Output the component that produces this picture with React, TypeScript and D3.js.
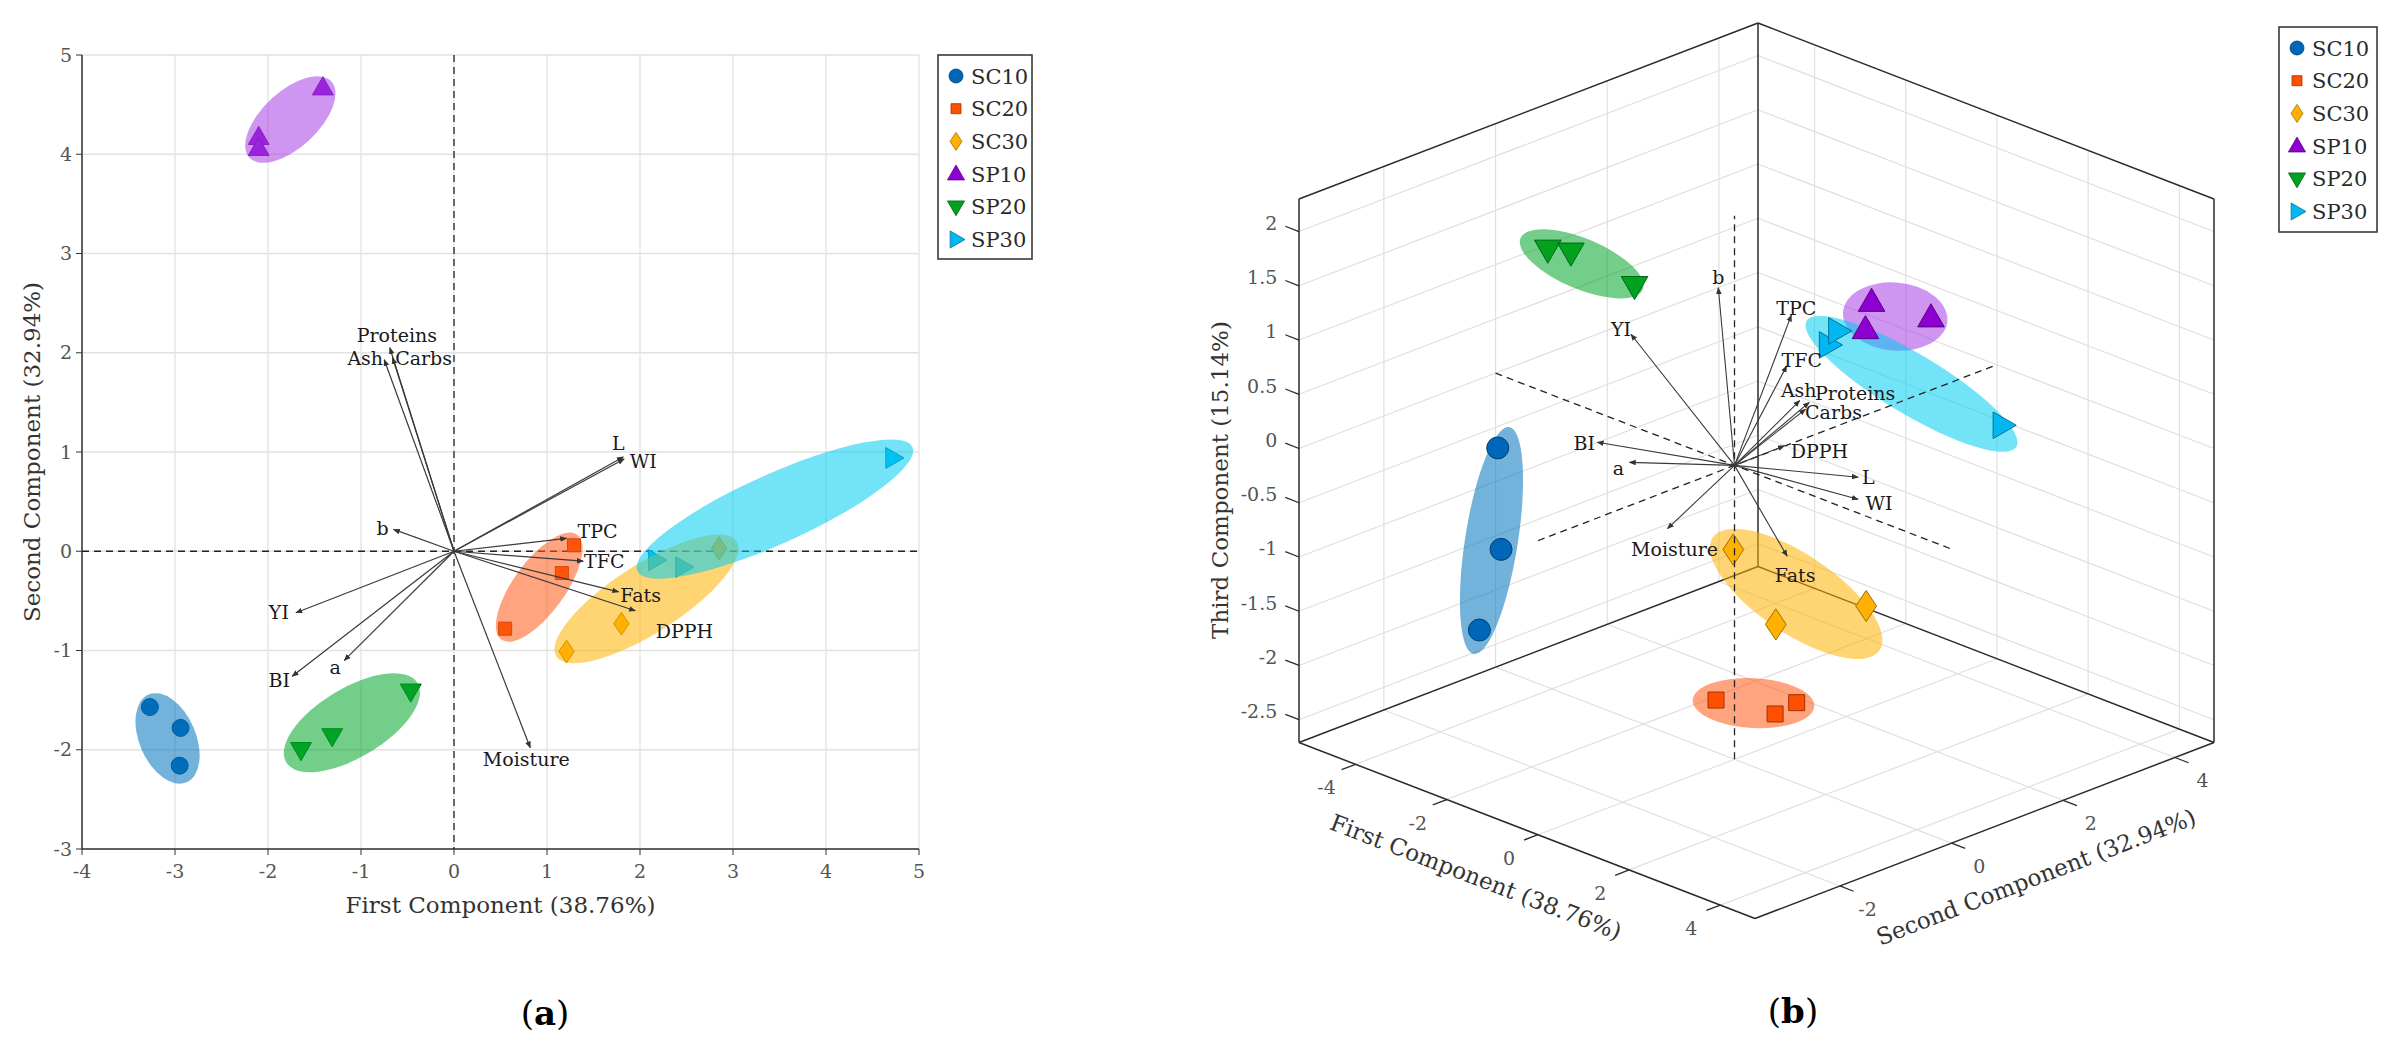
import React, { useEffect, useRef } from "react";
import * as d3 from "d3";

const WIDTH = 2393;
const HEIGHT = 1049;
const FONT = "'DejaVu Serif', serif";

// groups
const GROUPS = ["SC10", "SC20", "SC30", "SP10", "SP20", "SP30"];
const SHAPES = ["circle", "square", "diamond", "triUp", "triDown", "triRight"];
const MARKER_COLORS = ["#0066B8", "#FF4F00", "#FFB000", "#8E00D2", "#00A21E", "#00B7F1"];
const ELLIPSE_COLORS = ["#0072BD", "#FF5A14", "#FFB000", "#A540E6", "#00A52A", "#00CCF2"];

// scores (3 replicates per group)
const PC1 = [
  [-3.27, -2.94, -2.95],
  [0.55, 1.16, 1.29],
  [1.21, 1.8, 2.85],
  [-1.41, -2.1, -2.1],
  [-1.645, -1.31, -0.465],
  [2.17, 2.46, 4.72],
];
const PC2 = [
  [-1.57, -1.78, -2.16],
  [-0.78, -0.22, 0.06],
  [-1.01, -0.73, 0.03],
  [4.67, 4.17, 4.06],
  [-2.0, -1.86, -1.41],
  [-0.09, -0.16, 0.94],
];
const PC3 = [
  [-0.06, -0.9, -1.57],
  [-1.92, -2.06, -1.99],
  [-0.38, -1.03, -0.84],
  [0.21, 0.34, 0.11],
  [2.12, 2.12, 1.86],
  [1.48, 1.67, 0.95],
];

// group ellipses, panel (a): centre, semi-major vector (data units), minor/major ratio
const ELL2_CENTER = [
  [-3.08, -1.886],
  [0.916, -0.362],
  [2.07, -0.48],
  [-1.76, 4.35],
  [-1.098, -1.728],
  [3.45, 0.425],
];
const ELL2_AXIS = [
  [0.204, -0.442],
  [0.408, 0.528],
  [0.97, 0.58],
  [0.44, 0.385],
  [0.707, 0.399],
  [1.48, 0.625],
];
const ELL2_RATIO = [0.59, 0.4, 0.32, 0.5, 0.45, 0.23];

// group ellipses, panel (b)
const ELL3_CENTER = [
  [-3.08, -1.837, -0.83],
  [0.8, -0.313, -2.0],
  [2.05, -0.57, -0.74],
  [-1.68, 4.25, 0.26],
  [-1.2, -1.757, 2.01],
  [3.6, 0.23, 1.29],
];
const ELL3_AXIS = [
  [0.39, 0, 1.109],
  [1.333, 0, 0.187],
  [1.83, 0, -0.223],
  [1.144, 0, 0.143],
  [1.34, 0, -0.02],
  [2.3, 0, -0.207],
];
const ELL3_RATIO = [0.23, 0.41, 0.39, 0.65, 0.38, 0.245];

// loadings
const VARS = ["Proteins", "Ash", "Carbs", "L", "WI", "b", "TPC", "TFC", "Fats", "DPPH", "YI", "BI", "a", "Moisture"];
const LOAD1 = [-0.69, -0.75, -0.66, 1.82, 1.83, -0.65, 1.21, 1.39, 1.77, 1.95, -1.7, -1.74, -1.18, 0.82];
const LOAD2 = [2.05, 1.93, 1.95, 0.95, 0.93, 0.22, 0.13, -0.1, -0.41, -0.6, -0.62, -1.26, -1.1, -1.98];
const LOAD3D_1 = [-0.64, -0.7, -0.61, 1.66, 1.67, -0.6, 1.1, 1.26, 1.62, 1.78, -1.56, -1.6, -1.08, 0.76];
const LOAD3D_2 = [1.86, 1.74, 1.77, 0.86, 0.85, 0.2, 0.12, -0.093, -0.38, -0.56, -0.58, -1.15, -1.0, -1.82];
const LOAD3D_3 = [0.11, 0.14, 0.07, -0.01, -0.21, 1.5, 1.54, 1.14, -0.5, 0.58, 1.07, 0.18, 0.05, -0.1];

// axes
const X_TICKS_A = [-4, -3, -2, -1, 0, 1, 2, 3, 4, 5];
const Y_TICKS_A = [-3, -2, -1, 0, 1, 2, 3, 4, 5];
const X_TICKS_B = [-4, -2, 0, 2, 4];
const Y_TICKS_B = [-2, 0, 2, 4];
const Z_TICKS_B = [-2.5, -2, -1.5, -1, -0.5, 0, 0.5, 1, 1.5, 2];
const X_DOMAIN_B = [-5.24, 4.76];
const Y_DOMAIN_B = [-3.52, 4.7];
const Z_DOMAIN_B = [-2.71, 2.3];

// label placement (px offsets of label centre from arrow tip)
const LABEL_OFF_A: Record<string, [number, number]> = {
  Proteins: [7, -12], Ash: [-19, -1], Carbs: [31, 1], L: [-5, -14], WI: [19, 2], b: [-11, -1],
  TPC: [31, -7], TFC: [21, 0], Fats: [22, 3], DPPH: [49, 21], YI: [-17, 0], BI: [-13, 4],
  a: [-9, 7], Moisture: [-4, 12],
};
const LABEL_OFF_B: Record<string, [number, number]> = {
  Proteins: [46, -9], Ash: [-1, -10], Carbs: [28, 3], L: [10, 0], WI: [21, 4], b: [0, -10],
  TPC: [5, -7], TFC: [15, -6], Fats: [8, 19], DPPH: [35, 6], YI: [-10, -5], BI: [-13, 1],
  a: [-11, 6], Moisture: [7, 21],
};

function shapePath(shape: string, s: number): string {
  switch (shape) {
    case "circle":
      return `M${s},0A${s},${s} 0 1,1 ${-s},0A${s},${s} 0 1,1 ${s},0Z`;
    case "square":
      return `M${-s},${-s}H${s}V${s}H${-s}Z`;
    case "diamond":
      return `M0,${-1.2 * s}L${0.8 * s},0L0,${1.2 * s}L${-0.8 * s},0Z`;
    case "triUp":
      return `M0,${-s}L${0.95 * s},${0.65 * s}L${-0.95 * s},${0.65 * s}Z`;
    case "triDown":
      return `M0,${s}L${0.95 * s},${-0.65 * s}L${-0.95 * s},${-0.65 * s}Z`;
    default:
      return `M${s},0L${-0.65 * s},${-0.95 * s}L${-0.65 * s},${0.95 * s}Z`;
  }
}

const MARKER_SIZE_A: Record<string, number> = { circle: 8.5, square: 6.5, diamond: 9.5, triUp: 11, triDown: 11, triRight: 11 };
const MARKER_SIZE_B: Record<string, number> = { circle: 11, square: 8, diamond: 13, triUp: 14, triDown: 14, triRight: 14 };
const MARKER_SIZE_LEG: Record<string, number> = { circle: 7, square: 5, diamond: 7.5, triUp: 9, triDown: 9, triRight: 9 };

type Sel = d3.Selection<SVGSVGElement, unknown, null, undefined>;

function drawLegend(svg: Sel, x: number, y: number, w: number, h: number) {
  const g = svg.append("g");
  g.append("rect").attr("x", x).attr("y", y).attr("width", w).attr("height", h)
    .attr("fill", "white").attr("stroke", "#3a3a3a").attr("stroke-width", 1.6);
  GROUPS.forEach((name, i) => {
    const cy = y + 21 + i * 32.7;
    g.append("path").attr("d", shapePath(SHAPES[i], MARKER_SIZE_LEG[SHAPES[i]]))
      .attr("transform", `translate(${x + 18},${cy})`)
      .attr("fill", MARKER_COLORS[i])
      .attr("stroke", d3.color(MARKER_COLORS[i])!.darker(1.3).formatHex())
      .attr("stroke-width", 0.8);
    g.append("text").attr("x", x + 33).attr("y", cy).attr("dy", "0.36em")
      .attr("font-size", 21).attr("fill", "#2a2a2a").text(name);
  });
}

function drawBiplot(svg: Sel) {
  const P = { left: 82, right: 919, top: 55, bottom: 849 };
  const x = d3.scaleLinear().domain([-4, 5]).range([P.left, P.right]);
  const y = d3.scaleLinear().domain([-3, 5]).range([P.bottom, P.top]);
  const g = svg.append("g");

  // grid
  g.selectAll(".gx").data(X_TICKS_A).enter().append("line")
    .attr("x1", (d) => x(d)).attr("x2", (d) => x(d)).attr("y1", P.top).attr("y2", P.bottom)
    .attr("stroke", "#e2e2e2").attr("stroke-width", 1.3);
  g.selectAll(".gy").data(Y_TICKS_A).enter().append("line")
    .attr("y1", (d) => y(d)).attr("y2", (d) => y(d)).attr("x1", P.left).attr("x2", P.right)
    .attr("stroke", "#e2e2e2").attr("stroke-width", 1.3);

  // axes
  g.append("line").attr("x1", P.left).attr("x2", P.left).attr("y1", P.top).attr("y2", P.bottom).attr("stroke", "#333").attr("stroke-width", 1.5);
  g.append("line").attr("x1", P.left).attr("x2", P.right).attr("y1", P.bottom).attr("y2", P.bottom).attr("stroke", "#333").attr("stroke-width", 1.5);
  X_TICKS_A.forEach((t) => {
    g.append("line").attr("x1", x(t)).attr("x2", x(t)).attr("y1", P.bottom).attr("y2", P.bottom + 6).attr("stroke", "#333");
    g.append("text").attr("x", x(t)).attr("y", P.bottom + 22).attr("dy", "0.35em")
      .attr("text-anchor", "middle").attr("font-size", 19).attr("fill", "#555").text(String(t));
  });
  Y_TICKS_A.forEach((t) => {
    g.append("line").attr("x1", P.left - 6).attr("x2", P.left).attr("y1", y(t)).attr("y2", y(t)).attr("stroke", "#333");
    g.append("text").attr("x", P.left - 10).attr("y", y(t)).attr("dy", "0.35em")
      .attr("text-anchor", "end").attr("font-size", 19).attr("fill", "#555").text(String(t));
  });

  // zero lines
  g.append("line").attr("x1", x(0)).attr("x2", x(0)).attr("y1", P.top).attr("y2", P.bottom)
    .attr("stroke", "#222").attr("stroke-width", 1.3).attr("stroke-dasharray", "7 5");
  g.append("line").attr("x1", P.left).attr("x2", P.right).attr("y1", y(0)).attr("y2", y(0))
    .attr("stroke", "#222").attr("stroke-width", 1.3).attr("stroke-dasharray", "7 5");

  // markers
  GROUPS.forEach((_, i) => {
    PC1[i].forEach((v, j) => {
      g.append("path").attr("d", shapePath(SHAPES[i], MARKER_SIZE_A[SHAPES[i]]))
        .attr("transform", `translate(${x(v)},${y(PC2[i][j])})`)
        .attr("fill", MARKER_COLORS[i])
        .attr("stroke", d3.color(MARKER_COLORS[i])!.darker(1.3).formatHex())
        .attr("stroke-width", 1);
    });
  });

  // ellipses
  GROUPS.forEach((_, i) => {
    const [cx, cy] = ELL2_CENTER[i];
    const [ax, ay] = ELL2_AXIS[i];
    const sx = x(cx), sy = y(cy);
    const vx = x(cx + ax) - sx, vy = y(cy + ay) - sy;
    const rx = Math.hypot(vx, vy);
    const ang = (Math.atan2(vy, vx) * 180) / Math.PI;
    g.append("ellipse").attr("cx", sx).attr("cy", sy).attr("rx", rx).attr("ry", rx * ELL2_RATIO[i])
      .attr("transform", `rotate(${ang},${sx},${sy})`)
      .attr("fill", ELLIPSE_COLORS[i]).attr("fill-opacity", 0.55);
  });

  // loadings
  VARS.forEach((name, k) => {
    const ex = x(LOAD1[k]), ey = y(LOAD2[k]);
    g.append("line").attr("x1", x(0)).attr("y1", y(0)).attr("x2", ex).attr("y2", ey)
      .attr("stroke", "#3a3a3a").attr("stroke-width", 1.2).attr("marker-end", "url(#arrow)");
    const off = LABEL_OFF_A[name];
    g.append("text").attr("x", ex + off[0]).attr("y", ey + off[1]).attr("dy", "0.35em")
      .attr("text-anchor", "middle").attr("font-size", 19).attr("fill", "#1a1a1a").text(name);
  });

  // titles
  g.append("text").attr("x", (P.left + P.right) / 2).attr("y", 905).attr("dy", "0.35em")
    .attr("text-anchor", "middle").attr("font-size", 23).attr("fill", "#333").text("First Component (38.76%)");
  g.append("text").attr("transform", `translate(32,${(P.top + P.bottom) / 2}) rotate(-90)`).attr("dy", "0.35em")
    .attr("text-anchor", "middle").attr("font-size", 23).attr("fill", "#333").text("Second Component (32.94%)");
  const lab = g.append("text").attr("x", 545).attr("y", 1013).attr("dy", "0.35em")
    .attr("text-anchor", "middle").attr("font-size", 34).attr("fill", "#000");
  lab.append("tspan").text("(");
  lab.append("tspan").attr("font-weight", "bold").text("a");
  lab.append("tspan").text(")");

  drawLegend(svg, 938, 55, 94, 204);
}

function draw3D(svg: Sel) {
  const B = { x0: 1299, y0: 742.5, ux: 456, uy: 176, vx: 459, vy: -176, wz: 543.5 };
  const u = d3.scaleLinear().domain(X_DOMAIN_B).range([0, 1]);
  const v = d3.scaleLinear().domain(Y_DOMAIN_B).range([0, 1]);
  const w = d3.scaleLinear().domain(Z_DOMAIN_B).range([0, 1]);
  const proj = (X: number, Y: number, Z: number): [number, number] => {
    const uu = u(X), vv = v(Y), ww = w(Z);
    return [B.x0 + uu * B.ux + vv * B.vx, B.y0 + uu * B.uy + vv * B.vy - ww * B.wz];
  };
  const [x0, x1] = X_DOMAIN_B, [y0, y1] = Y_DOMAIN_B, [z0, z1] = Z_DOMAIN_B;
  const g = svg.append("g");
  const seg = (a: [number, number, number], b: [number, number, number], stroke: string, sw: number, dash?: string) => {
    const p = proj(...a), q = proj(...b);
    const l = g.append("line").attr("x1", p[0]).attr("y1", p[1]).attr("x2", q[0]).attr("y2", q[1])
      .attr("stroke", stroke).attr("stroke-width", sw);
    if (dash) l.attr("stroke-dasharray", dash);
    return l;
  };

  // grid
  const GC = "#e0e0e0";
  X_TICKS_B.forEach((t) => {
    seg([t, y0, z0], [t, y1, z0], GC, 1.2);
    seg([t, y1, z0], [t, y1, z1], GC, 1.2);
  });
  Y_TICKS_B.forEach((t) => {
    seg([x0, t, z0], [x1, t, z0], GC, 1.2);
    seg([x0, t, z0], [x0, t, z1], GC, 1.2);
  });
  Z_TICKS_B.forEach((t) => {
    seg([x0, y0, t], [x0, y1, t], GC, 1.2);
    seg([x0, y1, t], [x1, y1, t], GC, 1.2);
  });

  // box
  const BC = "#2a2a2a";
  seg([x0, y0, z0], [x1, y0, z0], BC, 1.5);
  seg([x1, y0, z0], [x1, y1, z0], BC, 1.5);
  seg([x0, y0, z0], [x0, y1, z0], BC, 1.5);
  seg([x0, y1, z0], [x1, y1, z0], BC, 1.5);
  seg([x0, y0, z0], [x0, y0, z1], BC, 1.5);
  seg([x0, y1, z0], [x0, y1, z1], BC, 1.5);
  seg([x1, y1, z0], [x1, y1, z1], BC, 1.5);
  seg([x0, y0, z1], [x0, y1, z1], BC, 1.5);
  seg([x0, y1, z1], [x1, y1, z1], BC, 1.5);

  // ticks + labels
  Z_TICKS_B.forEach((t) => {
    seg([x0, y0, t], [x0 - 0.3, y0, t], BC, 1.3);
    const p = proj(x0 - 0.3, y0, t);
    g.append("text").attr("x", p[0] - 8).attr("y", p[1] - 3).attr("dy", "0.35em")
      .attr("text-anchor", "end").attr("font-size", 19).attr("fill", "#555").text(String(t));
  });
  X_TICKS_B.forEach((t) => {
    seg([t, y0, z0], [t, y0 - 0.25, z0], BC, 1.3);
    const p = proj(t, y0 - 0.25, z0);
    g.append("text").attr("x", p[0] - 15).attr("y", p[1] + 18).attr("dy", "0.35em")
      .attr("text-anchor", "middle").attr("font-size", 19).attr("fill", "#555").text(String(t));
  });
  Y_TICKS_B.forEach((t) => {
    seg([x1, t, z0], [x1 + 0.3, t, z0], BC, 1.3);
    const p = proj(x1 + 0.3, t, z0);
    g.append("text").attr("x", p[0] + 14).attr("y", p[1] + 18).attr("dy", "0.35em")
      .attr("text-anchor", "middle").attr("font-size", 19).attr("fill", "#555").text(String(t));
  });

  // ellipses
  GROUPS.forEach((_, i) => {
    const c = ELL3_CENTER[i];
    const a = ELL3_AXIS[i];
    const p = proj(c[0], c[1], c[2]);
    const q = proj(c[0] + a[0], c[1] + a[1], c[2] + a[2]);
    const vx = q[0] - p[0], vy = q[1] - p[1];
    const rx = Math.hypot(vx, vy);
    const ang = (Math.atan2(vy, vx) * 180) / Math.PI;
    g.append("ellipse").attr("cx", p[0]).attr("cy", p[1]).attr("rx", rx).attr("ry", rx * ELL3_RATIO[i])
      .attr("transform", `rotate(${ang},${p[0]},${p[1]})`)
      .attr("fill", ELLIPSE_COLORS[i]).attr("fill-opacity", 0.55);
  });

  // markers
  GROUPS.forEach((_, i) => {
    PC1[i].forEach((X, j) => {
      const p = proj(X, PC2[i][j], PC3[i][j]);
      g.append("path").attr("d", shapePath(SHAPES[i], MARKER_SIZE_B[SHAPES[i]]))
        .attr("transform", `translate(${p[0]},${p[1]})`)
        .attr("fill", MARKER_COLORS[i])
        .attr("stroke", d3.color(MARKER_COLORS[i])!.darker(1.3).formatHex())
        .attr("stroke-width", 1);
    });
  });

  // dashed axes through origin
  seg([x0, 0, 0], [x1, 0, 0], "#222", 1.3, "7 5");
  seg([0, y0, 0], [0, y1, 0], "#222", 1.3, "7 5");
  seg([0, 0, z0], [0, 0, z1], "#222", 1.3, "7 5");

  // loadings
  const o = proj(0, 0, 0);
  VARS.forEach((name, k) => {
    const e = proj(LOAD3D_1[k], LOAD3D_2[k], LOAD3D_3[k]);
    g.append("line").attr("x1", o[0]).attr("y1", o[1]).attr("x2", e[0]).attr("y2", e[1])
      .attr("stroke", "#3a3a3a").attr("stroke-width", 1.1).attr("marker-end", "url(#arrow)");
    const off = LABEL_OFF_B[name];
    g.append("text").attr("x", e[0] + off[0]).attr("y", e[1] + off[1]).attr("dy", "0.35em")
      .attr("text-anchor", "middle").attr("font-size", 19).attr("fill", "#1a1a1a").text(name);
  });

  // titles
  g.append("text").attr("transform", "translate(1220,480) rotate(-90)").attr("dy", "0.35em")
    .attr("text-anchor", "middle").attr("font-size", 23).attr("fill", "#333").text("Third Component (15.14%)");
  g.append("text").attr("transform", "translate(1476,877) rotate(21.06)").attr("dy", "0.35em")
    .attr("text-anchor", "middle").attr("font-size", 23).attr("fill", "#333").text("First Component (38.76%)");
  g.append("text").attr("transform", "translate(2036,877) rotate(-21.06)").attr("dy", "0.35em")
    .attr("text-anchor", "middle").attr("font-size", 23).attr("fill", "#333").text("Second Component (32.94%)");
  const lab = g.append("text").attr("x", 1793).attr("y", 1011).attr("dy", "0.35em")
    .attr("text-anchor", "middle").attr("font-size", 34).attr("fill", "#000");
  lab.append("tspan").text("(");
  lab.append("tspan").attr("font-weight", "bold").text("b");
  lab.append("tspan").text(")");

  drawLegend(svg, 2279, 27, 98, 205);
}

const App: React.FC = () => {
  const svgRef = useRef<SVGSVGElement | null>(null);

  useEffect(() => {
    const el = svgRef.current;
    if (!el) return;
    const svg = d3.select(el) as Sel;
    svg.selectAll("*").remove();
    svg.attr("width", WIDTH).attr("height", HEIGHT).style("background", "white").style("font-family", FONT);

    svg.append("defs").append("marker")
      .attr("id", "arrow").attr("viewBox", "0 0 10 10").attr("refX", 9).attr("refY", 5)
      .attr("markerWidth", 7).attr("markerHeight", 7).attr("markerUnits", "userSpaceOnUse")
      .attr("orient", "auto")
      .append("path").attr("d", "M0,1 L10,5 L0,9 Z").attr("fill", "#333");

    drawBiplot(svg);
    draw3D(svg);
  }, []);

  return <svg ref={svgRef} style={{ position: "absolute", left: 0, top: 0 }} />;
};

export default App;
